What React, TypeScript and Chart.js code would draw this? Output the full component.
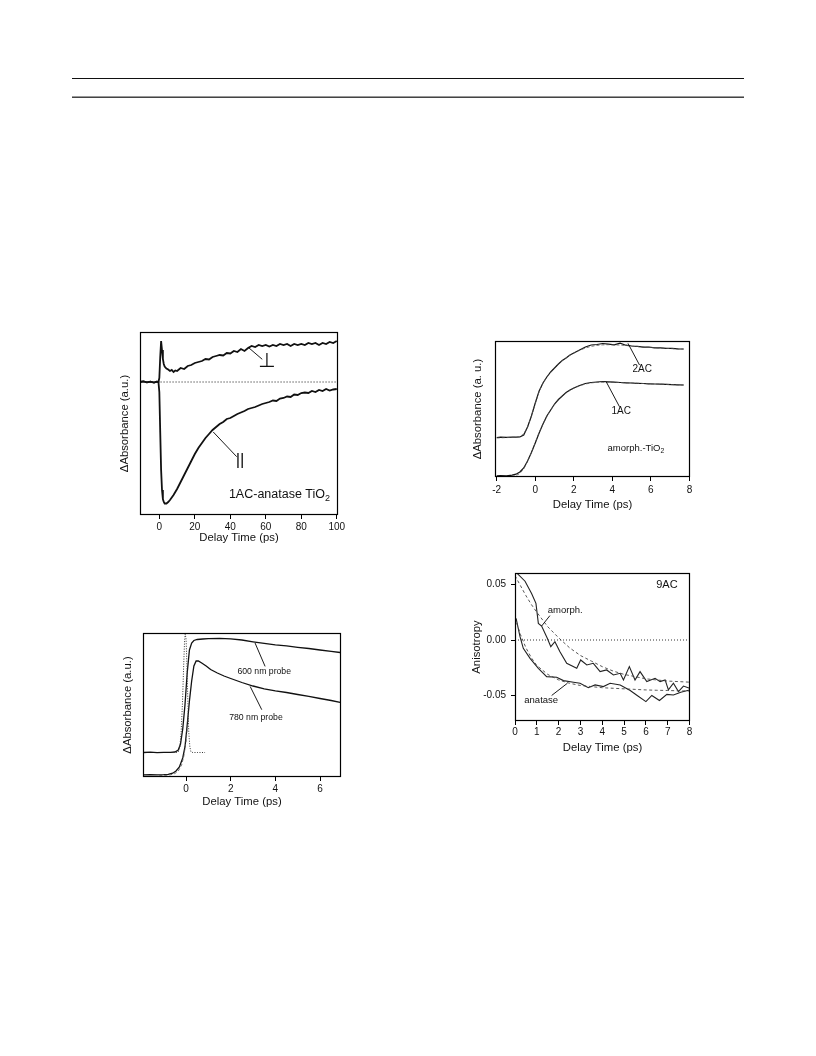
import React, { useEffect, useRef } from "react";
import { Chart, registerables } from "chart.js";
Chart.register(...registerables);

const SANS = '"Liberation Sans", Arial, Helvetica, sans-serif';
const TICK_SIZE = 10;
const TITLE_SIZE = 11.3;

// ---------- Chart 1: 1AC-anatase TiO2 ----------
const c1Time = [-11, -9, -7, -5, -3, -1.5, -0.5, 0, 0.5, 1, 1.5, 2, 2.5, 3, 4, 5, 6, 7, 8, 9, 10,
  12, 14, 16, 18, 20, 22, 24, 26, 28, 30, 32, 34, 36, 38, 40, 42, 44, 46, 48, 50, 52, 54, 56, 58, 60,
  62, 64, 66, 68, 70, 72, 74, 76, 78, 80, 82, 84, 86, 88, 90, 92, 94, 96, 98, 100];
const c1Perp = [0, 0.006, -0.004, 0.004, -0.005, 0.003, 0.0, 0.04, 0.25, 0.41, 0.32, 0.23, 0.18, 0.155,
  0.135, 0.125, 0.11, 0.12, 0.10, 0.115, 0.11,
  0.14, 0.13, 0.16, 0.17, 0.19, 0.20, 0.21, 0.23, 0.225, 0.25, 0.26, 0.27, 0.265, 0.29, 0.285, 0.31, 0.30,
  0.33, 0.31, 0.34, 0.36, 0.35, 0.37, 0.36, 0.37, 0.355, 0.37, 0.36, 0.38, 0.37, 0.38, 0.36, 0.38, 0.37,
  0.38, 0.37, 0.39, 0.38, 0.39, 0.37, 0.39, 0.38, 0.40, 0.39, 0.41];
const c1Para = [0, 0.006, -0.004, 0.004, -0.005, 0.003, 0.0, -0.1, -0.5, -0.88, -1.08, -1.17, -1.2, -1.215,
  -1.215, -1.2, -1.18, -1.155, -1.13, -1.1, -1.07,
  -1.0, -0.93, -0.86, -0.79, -0.72, -0.66, -0.61, -0.56, -0.52, -0.48, -0.45, -0.42, -0.40, -0.37, -0.36,
  -0.34, -0.32, -0.305, -0.29, -0.27, -0.26, -0.25, -0.235, -0.22, -0.21, -0.20, -0.185, -0.19, -0.165,
  -0.16, -0.145, -0.15, -0.125, -0.13, -0.11, -0.105, -0.11, -0.09, -0.10, -0.08, -0.09, -0.07, -0.085,
  -0.075, -0.07];
const c1BaseTime = [-1, 100];
const c1Base = [0, 0];
const c1XTicks = [0, 20, 40, 60, 80, 100];

// ---------- Chart 2: amorph.-TiO2, 1AC / 2AC ----------
const c2Time = [-2, -1.8, -1.5, -1.2, -1.0, -0.8, -0.6, -0.4, -0.2, 0, 0.2, 0.4, 0.6, 0.8, 1.0, 1.2, 1.4,
  1.6, 1.8, 2.0, 2.3, 2.6, 2.9, 3.2, 3.5, 3.8, 4.1, 4.4, 4.7, 5.0, 5.3, 5.6, 5.9, 6.2, 6.5, 6.8, 7.1, 7.4, 7.7];
const c2Ac2 = [0.395, 0.398, 0.396, 0.399, 0.398, 0.40, 0.42, 0.50, 0.61, 0.74, 0.86, 0.94, 1.00, 1.05,
  1.09, 1.13, 1.165, 1.19, 1.22, 1.24, 1.27, 1.30, 1.32, 1.325, 1.335, 1.328, 1.322, 1.338, 1.318, 1.31,
  1.306, 1.298, 1.3, 1.292, 1.291, 1.286, 1.287, 1.281, 1.28];
const c2Ac1 = [0.012, 0.013, 0.011, 0.018, 0.028, 0.05, 0.09, 0.16, 0.245, 0.34, 0.44, 0.53, 0.61, 0.67,
  0.73, 0.775, 0.81, 0.845, 0.87, 0.89, 0.915, 0.935, 0.945, 0.95, 0.955, 0.952, 0.948, 0.945, 0.942,
  0.94, 0.937, 0.935, 0.932, 0.93, 0.928, 0.926, 0.924, 0.922, 0.92];
const c2Fit2 = [0.39, 0.392, 0.394, 0.396, 0.398, 0.405, 0.43, 0.50, 0.61, 0.735, 0.855, 0.94, 1.0, 1.05,
  1.092, 1.13, 1.163, 1.192, 1.218, 1.24, 1.268, 1.29, 1.306, 1.316, 1.321, 1.323, 1.322, 1.319, 1.315,
  1.31, 1.305, 1.3, 1.296, 1.292, 1.289, 1.286, 1.283, 1.281, 1.279];
const c2Fit1 = [0.0, 0.001, 0.003, 0.006, 0.015, 0.035, 0.08, 0.155, 0.245, 0.345, 0.445, 0.53, 0.605,
  0.67, 0.725, 0.77, 0.808, 0.84, 0.866, 0.888, 0.912, 0.93, 0.941, 0.947, 0.949, 0.949, 0.947, 0.945,
  0.942, 0.94, 0.937, 0.935, 0.932, 0.93, 0.928, 0.926, 0.924, 0.922, 0.92];
const c2XTicks = [-2, 0, 2, 4, 6, 8];

// ---------- Chart 3: 600 / 780 nm probe ----------
const c3Time600 = [-1.9, -1.6, -1.3, -1.0, -0.7, -0.5, -0.35, -0.25, -0.15, -0.05, 0.05, 0.15, 0.25, 0.35,
  0.5, 0.75, 1.0, 1.5, 2.0, 2.5, 3.0, 3.5, 4.0, 4.5, 5.0, 5.5, 6.0, 6.5, 6.9];
const c3P600 = [0.245, 0.248, 0.244, 0.247, 0.246, 0.25, 0.27, 0.33, 0.48, 0.72, 1.04, 1.27, 1.34, 1.365,
  1.375, 1.38, 1.383, 1.386, 1.381, 1.37, 1.352, 1.336, 1.322, 1.311, 1.297, 1.285, 1.27, 1.256, 1.245];
const c3Time780 = [-1.9, -1.6, -1.3, -1.0, -0.8, -0.6, -0.45, -0.3, -0.15, -0.05, 0.05, 0.15, 0.25, 0.35,
  0.45, 0.55, 0.7, 0.9, 1.1, 1.4, 1.7, 2.0, 2.5, 3.0, 3.5, 4.0, 4.5, 5.0, 5.5, 6.0, 6.5, 6.9];
const c3P780 = [0.022, 0.024, 0.021, 0.023, 0.027, 0.038, 0.06, 0.1, 0.19, 0.3, 0.52, 0.76, 0.96, 1.11,
  1.16, 1.16, 1.14, 1.11, 1.075, 1.04, 1.01, 0.985, 0.945, 0.91, 0.882, 0.862, 0.845, 0.825, 0.806,
  0.785, 0.765, 0.746];
const c3FitTime = [-1.2, -0.9, -0.7, -0.5, -0.35, -0.2, -0.1, 0.0, 0.1];
const c3Fit780 = [0.015, 0.017, 0.022, 0.035, 0.06, 0.12, 0.21, 0.36, 0.6];
const c3PulseTime = [-0.45, -0.35, -0.28, -0.22, -0.16, -0.11, -0.07, -0.04, 0.0, 0.04, 0.08, 0.12, 0.17,
  0.22, 0.3, 0.5, 0.85];
const c3Pulse = [0.246, 0.25, 0.3, 0.45, 0.75, 1.1, 1.35, 1.43, 1.38, 1.1, 0.75, 0.45, 0.3, 0.25, 0.245,
  0.245, 0.245];
const c3XTicks = [0, 2, 4, 6];

// ---------- Chart 4: 9AC anisotropy ----------
const c4AmTime = [0.05, 0.46, 0.76, 0.96, 1.07, 1.22, 1.48, 1.64, 1.83, 2.06, 2.37, 2.83, 3.01, 3.29,
  3.59, 3.9, 4.2, 4.51, 4.82, 4.97, 5.24, 5.5, 5.73, 6.04, 6.42, 6.65, 6.88, 7.03, 7.26, 7.49, 7.72, 8.0];
const c4Amorph = [0.061, 0.053, 0.042, 0.033, 0.015, 0.0126, 0.0015, -0.006, -0.0015, -0.0105, -0.021,
  -0.0255, -0.018, -0.0225, -0.021, -0.0285, -0.027, -0.0315, -0.030, -0.036, -0.024, -0.036, -0.0285,
  -0.0375, -0.0345, -0.0375, -0.036, -0.045, -0.039, -0.0465, -0.0415, -0.0435];
const c4AnTime = [0.05, 0.23, 0.38, 0.69, 1.07, 1.45, 1.91, 2.22, 2.68, 2.98, 3.36, 3.67, 4.05, 4.36,
  4.82, 5.28, 5.6, 6.0, 6.27, 6.62, 6.96, 7.26, 7.6, 8.0];
const c4Anatase = [0.0195, 0.003, -0.0075, -0.0165, -0.0255, -0.033, -0.0336, -0.0366, -0.038, -0.039,
  -0.043, -0.0405, -0.042, -0.039, -0.0405, -0.0455, -0.05, -0.0555, -0.05, -0.0545, -0.049, -0.0495,
  -0.047, -0.045];
const c4FitTime = [0, 0.25, 0.5, 0.75, 1, 1.5, 2, 2.5, 3, 3.5, 4, 4.5, 5, 5.5, 6, 6.5, 7, 7.5, 8];
const c4FitAm = [0.058, 0.049, 0.040, 0.032, 0.025, 0.012, 0.002, -0.007, -0.014, -0.019, -0.024, -0.028,
  -0.031, -0.033, -0.035, -0.036, -0.037, -0.0375, -0.038];
const c4FitAn = [0.02, 0.005, -0.007, -0.016, -0.023, -0.031, -0.036, -0.039, -0.041, -0.042, -0.043,
  -0.0435, -0.044, -0.0445, -0.045, -0.0453, -0.0455, -0.0458, -0.046];
const c4ZeroTime = [0, 8.02];
const c4Zero = [0, 0];
const c4XTicks = [0, 1, 2, 3, 4, 5, 6, 7, 8];
const c4YTicks = [-0.05, 0, 0.05];

// ---------- helpers ----------
type Ann =
  | { kind: "text"; x: number; y: number; text: string; sub?: string; size: number; align?: "left" | "right" | "center"; family?: string }
  | { kind: "line"; x1: number; y1: number; x2: number; y2: number };

function pts(xs: number[], ys: number[]) {
  return xs.map((x, i) => ({ x, y: ys[i] }));
}

function series(xs: number[], ys: number[], width: number, color: string, dash: number[] = []) {
  return {
    data: pts(xs, ys),
    borderColor: color,
    borderWidth: width,
    borderDash: dash,
    pointRadius: 0,
    fill: false,
    tension: 0,
  };
}

function drawText(ctx: CanvasRenderingContext2D, px: number, py: number, a: any) {
  const fam = a.family || SANS;
  const size = a.size;
  const subSize = size * 0.72;
  ctx.font = `${size}px ${fam}`;
  const w1 = ctx.measureText(a.text).width;
  let w2 = 0;
  if (a.sub) {
    ctx.font = `${subSize}px ${fam}`;
    w2 = ctx.measureText(a.sub).width;
  }
  const total = w1 + w2;
  const align = a.align || "center";
  const x0 = align === "left" ? px : align === "right" ? px - total : px - total / 2;
  ctx.textAlign = "left";
  ctx.textBaseline = "middle";
  ctx.font = `${size}px ${fam}`;
  ctx.fillText(a.text, x0, py);
  if (a.sub) {
    ctx.font = `${subSize}px ${fam}`;
    ctx.fillText(a.sub, x0 + w1, py + size * 0.32);
  }
}

function annPlugin(anns: Ann[]) {
  return {
    id: "anns",
    afterDatasetsDraw(chart: any) {
      const { ctx, chartArea: a, scales } = chart;
      const sx = scales.x;
      const sy = scales.y;
      ctx.save();
      ctx.strokeStyle = "#000";
      ctx.lineWidth = 1.2;
      ctx.setLineDash([]);
      ctx.strokeRect(Math.round(a.left) + 0.5, Math.round(a.top) + 0.5, Math.round(a.right - a.left) - 1, Math.round(a.bottom - a.top) - 1);
      ctx.fillStyle = "#111";
      ctx.lineWidth = 0.9;
      for (const an of anns) {
        if (an.kind === "line") {
          ctx.beginPath();
          ctx.moveTo(sx.getPixelForValue(an.x1), sy.getPixelForValue(an.y1));
          ctx.lineTo(sx.getPixelForValue(an.x2), sy.getPixelForValue(an.y2));
          ctx.stroke();
        } else {
          drawText(ctx, sx.getPixelForValue(an.x), sy.getPixelForValue(an.y), an);
        }
      }
      ctx.restore();
    },
  };
}

type Spec = {
  cv: { x: number; y: number; w: number; h: number };
  box: { l: number; t: number; r: number; b: number };
  yTitleX: number;
  xTitleY: number;
  xMin: number; xMax: number; yMin: number; yMax: number;
  xTicks: number[];
  yTicks?: number[];
  xTitle: string;
  yTitle: string;
  xTickPad: number;
  datasets: any[];
  anns: Ann[];
};

function buildConfig(s: Spec): any {
  const lh = TITLE_SIZE * 1.2;
  const pl = s.yTitleX - s.cv.x - lh / 2;
  const wy = s.box.l - s.cv.x - pl;
  const pt = s.box.t - s.cv.y;
  const pr = s.cv.x + s.cv.w - s.box.r;
  const hx = s.xTitleY + lh / 2 - s.box.b;
  const pb = s.cv.y + s.cv.h - s.box.b - hx;
  const hasYTicks = !!s.yTicks;
  return {
    type: "line",
    data: { datasets: s.datasets },
    options: {
      responsive: false,
      animation: false,
      devicePixelRatio: 1,
      layout: { padding: { left: pl, top: pt, right: pr, bottom: pb } },
      plugins: { legend: { display: false }, tooltip: { enabled: false } },
      scales: {
        x: {
          type: "linear",
          min: s.xMin,
          max: s.xMax,
          afterBuildTicks: (sc: any) => {
            sc.ticks = s.xTicks.map((v) => ({ value: v }));
          },
          afterFit: (sc: any) => {
            sc.height = hx;
            sc.paddingLeft = 0;
            sc.paddingRight = 0;
          },
          ticks: {
            font: { family: SANS, size: TICK_SIZE },
            color: "#111",
            padding: s.xTickPad,
            maxRotation: 0,
            autoSkip: false,
            callback: (v: number) => String(v),
          },
          grid: { display: true, drawOnChartArea: false, drawTicks: true, tickLength: 4, color: "#000", lineWidth: 1 },
          border: { display: false },
          title: { display: true, text: s.xTitle, font: { family: SANS, size: TITLE_SIZE }, color: "#111", padding: 0 },
        },
        y: {
          type: "linear",
          min: s.yMin,
          max: s.yMax,
          afterBuildTicks: (sc: any) => {
            sc.ticks = (s.yTicks || []).map((v) => ({ value: v }));
          },
          afterFit: (sc: any) => {
            sc.width = wy;
            sc.paddingTop = 0;
            sc.paddingBottom = 0;
          },
          ticks: {
            display: hasYTicks,
            font: { family: SANS, size: TICK_SIZE },
            color: "#111",
            padding: 5,
            autoSkip: false,
            callback: (v: number) => v.toFixed(2),
          },
          grid: { display: hasYTicks, drawOnChartArea: false, drawTicks: true, tickLength: 4, color: "#000", lineWidth: 1 },
          border: { display: false },
          title: { display: true, text: s.yTitle, font: { family: SANS, size: TITLE_SIZE }, color: "#111", padding: 0 },
        },
      },
    },
    plugins: [annPlugin(s.anns)],
  };
}

function Plot({ spec }: { spec: Spec }) {
  const ref = useRef<HTMLCanvasElement>(null);
  useEffect(() => {
    const chart = new Chart(ref.current as HTMLCanvasElement, buildConfig(spec));
    return () => chart.destroy();
  }, []);
  const { x, y, w, h } = spec.cv;
  return (
    <div style={{ position: "absolute", left: x, top: y, width: w, height: h }}>
      <canvas ref={ref} width={w} height={h} style={{ display: "block", width: w, height: h }} />
    </div>
  );
}

const BLACK = "#111";

const spec1: Spec = {
  cv: { x: 100, y: 320, w: 250, h: 230 },
  box: { l: 140, t: 332, r: 338, b: 515 },
  yTitleX: 125,
  xTitleY: 538.3,
  xMin: -10.9, xMax: 100.7, yMin: -1.33, yMax: 0.5,
  xTicks: c1XTicks,
  xTitle: "Delay Time (ps)",
  yTitle: "ΔAbsorbance (a.u.)",
  xTickPad: 2,
  datasets: [
    series(c1BaseTime, c1Base, 1, BLACK, [1, 2]),
    series(c1Time, c1Perp, 1.8, BLACK),
    series(c1Time, c1Para, 1.8, BLACK),
  ],
  anns: [
    { kind: "line", x1: 50.1, y1: 0.347, x2: 58, y2: 0.227 },
    { kind: "text", x: 60.5, y: 0.2, text: "⊥", size: 20, family: '"DejaVu Sans", sans-serif' },
    { kind: "line", x1: 30.4, y1: -0.5, x2: 43.6, y2: -0.747 },
    { kind: "text", x: 45.5, y: -0.785, text: "||", size: 17 },
    { kind: "text", x: 96.2, y: -1.13, text: "1AC-anatase TiO", sub: "2", size: 12.5, align: "right" },
  ],
};

const spec2: Spec = {
  cv: { x: 450, y: 325, w: 260, h: 195 },
  box: { l: 495, t: 341, r: 690, b: 477 },
  yTitleX: 478.3,
  xTitleY: 505,
  xMin: -2.09, xMax: 8.03, yMin: 0, yMax: 1.36,
  xTicks: c2XTicks,
  xTitle: "Delay Time (ps)",
  yTitle: "ΔAbsorbance (a. u.)",
  xTickPad: 3,
  datasets: [
    series(c2Time, c2Fit2, 0.8, "#555", [3, 2]),
    series(c2Time, c2Fit1, 0.8, "#555", [3, 2]),
    series(c2Time, c2Ac2, 1.2, BLACK),
    series(c2Time, c2Ac1, 1.2, BLACK),
  ],
  anns: [
    { kind: "line", x1: 4.81, y1: 1.337, x2: 5.41, y2: 1.12 },
    { kind: "text", x: 5.55, y: 1.077, text: "2AC", size: 10 },
    { kind: "line", x1: 3.68, y1: 0.953, x2: 4.37, y2: 0.703 },
    { kind: "text", x: 4.46, y: 0.66, text: "1AC", size: 10 },
    { kind: "text", x: 3.75, y: 0.29, text: "amorph.-TiO", sub: "2", size: 9.5, align: "left" },
  ],
};

const spec3: Spec = {
  cv: { x: 100, y: 620, w: 260, h: 200 },
  box: { l: 143, t: 633, r: 341, b: 777 },
  yTitleX: 128.3,
  xTitleY: 802.3,
  xMin: -1.93, xMax: 6.94, yMin: 0, yMax: 1.44,
  xTicks: c3XTicks,
  xTitle: "Delay Time (ps)",
  yTitle: "ΔAbsorbance (a.u.)",
  xTickPad: 2,
  datasets: [
    series(c3PulseTime, c3Pulse, 1, "#333", [1, 1.5]),
    series(c3FitTime, c3Fit780, 0.8, "#555", [3, 2]),
    series(c3Time600, c3P600, 1.3, BLACK),
    series(c3Time780, c3P780, 1.3, BLACK),
  ],
  anns: [
    { kind: "line", x1: 3.09, y1: 1.34, x2: 3.54, y2: 1.106 },
    { kind: "text", x: 3.5, y: 1.056, text: "600 nm probe", size: 8.7 },
    { kind: "line", x1: 2.87, y1: 0.906, x2: 3.39, y2: 0.673 },
    { kind: "text", x: 3.13, y: 0.596, text: "780 nm probe", size: 8.7 },
  ],
};

const spec4: Spec = {
  cv: { x: 455, y: 560, w: 250, h: 200 },
  box: { l: 515, t: 573, r: 690, b: 721 },
  yTitleX: 476.7,
  xTitleY: 748.3,
  xMin: 0, xMax: 8.02, yMin: -0.073, yMax: 0.0604,
  xTicks: c4XTicks,
  yTicks: c4YTicks,
  xTitle: "Delay Time (ps)",
  yTitle: "Anisotropy",
  xTickPad: 1,
  datasets: [
    series(c4ZeroTime, c4Zero, 1, "#333", [1, 2]),
    series(c4FitTime, c4FitAm, 0.9, "#444", [3, 2.5]),
    series(c4FitTime, c4FitAn, 0.9, "#444", [3, 2.5]),
    series(c4AmTime, c4Amorph, 1.1, "#222"),
    series(c4AnTime, c4Anatase, 1.1, "#222"),
  ],
  anns: [
    { kind: "text", x: 6.96, y: 0.0495, text: "9AC", size: 11 },
    { kind: "line", x1: 1.22, y1: 0.0126, x2: 1.6, y2: 0.022 },
    { kind: "text", x: 2.3, y: 0.027, text: "amorph.", size: 9.5 },
    { kind: "line", x1: 1.68, y1: -0.05, x2: 2.4, y2: -0.039 },
    { kind: "text", x: 1.2, y: -0.0547, text: "anatase", size: 9.5 },
  ],
};

export default function App() {
  return (
    <div style={{ position: "absolute", left: 0, top: 0, width: 816, height: 1056, background: "#fff" }}>
      <div style={{ position: "absolute", left: 72, top: 78, width: 672, height: 1, background: "#111" }} />
      <div style={{ position: "absolute", left: 72, top: 96, width: 672, height: 1, background: "#999" }} />
      <div style={{ position: "absolute", left: 72, top: 97, width: 672, height: 1, background: "#444" }} />
      <Plot spec={spec1} />
      <Plot spec={spec2} />
      <Plot spec={spec3} />
      <Plot spec={spec4} />
    </div>
  );
}
